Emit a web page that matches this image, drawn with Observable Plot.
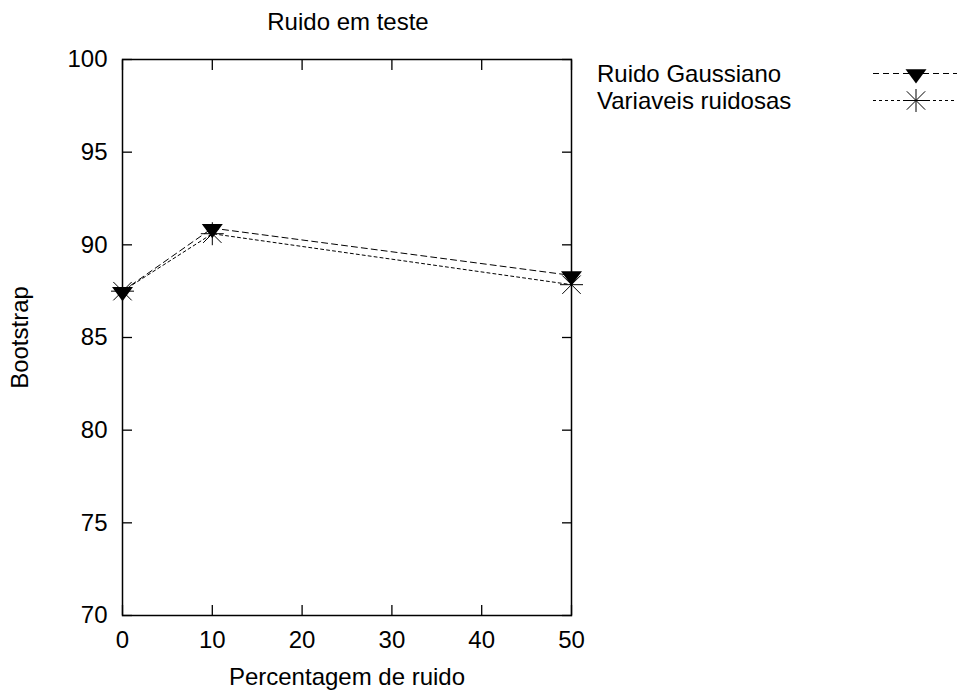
<!DOCTYPE html>
<html>
<head>
<meta charset="utf-8">
<script src="https://cdn.jsdelivr.net/npm/d3@7"></script>
<script src="https://cdn.jsdelivr.net/npm/@observablehq/plot@0.6"></script>
<style>
  html, body { margin: 0; padding: 0; background: #fff; }
  #wrap { position: relative; width: 957px; height: 692px; font-family: "Liberation Sans", Arial, sans-serif; }
  #title { position: absolute; left: 122px; width: 452px; top: 8px; text-align: center; font-size: 24px; line-height: 28px; }
  #legend { position: absolute; left: 597px; top: 60px; font-size: 24px; }
  .lrow { display: flex; align-items: center; height: 27px; line-height: 27px; }
  .lrow span { width: 276px; }
</style>
</head>
<body>
<div id="wrap">
  <div id="title">Ruido em teste</div>
  <div id="legend"></div>
</div>
<script>
const xTicks = [0, 10, 20, 30, 40, 50];
const yTicks = [70, 75, 80, 85, 90, 95, 100];
const seriesNames = ["Ruido Gaussiano", "Variaveis ruidosas"];
const noisePct = [0, 10, 50];
const gaussiano = [87.5, 90.9, 88.35];
const variaveis = [87.5, 90.6, 87.85];

const rows = [];
noisePct.forEach((x, i) => {
  rows.push({serie: seriesNames[0], x, y: gaussiano[i]});
  rows.push({serie: seriesNames[1], x, y: variaveis[i]});
});

const triDown = {
  draw(ctx, size) {
    const r = Math.sqrt(size / Math.PI);
    ctx.moveTo(-r, -0.4 * r);
    ctx.lineTo(r, -0.4 * r);
    ctx.lineTo(0, 0.95 * r);
    ctx.closePath();
  }
};
const star8 = {
  draw(ctx, size) {
    const r = Math.sqrt(size / Math.PI);
    const d = r * 0.8;
    ctx.moveTo(-r, 0); ctx.lineTo(r, 0);
    ctx.moveTo(0, -r); ctx.lineTo(0, r);
    ctx.moveTo(-d, -d); ctx.lineTo(d, d);
    ctx.moveTo(-d, d); ctx.lineTo(d, -d);
  }
};

const g = rows.filter(d => d.serie === seriesNames[0]);
const v = rows.filter(d => d.serie === seriesNames[1]);

const chart = Plot.plot({
  width: 957,
  height: 692,
  marginLeft: 122,
  marginRight: 386,
  marginTop: 59,
  marginBottom: 77,
  style: {fontFamily: "Liberation Sans, Arial, sans-serif", fontSize: "24px", color: "#000", background: "#fff"},
  x: {domain: [0, 50]},
  y: {domain: [70, 100]},
  marks: [
    Plot.frame({stroke: "#000", strokeWidth: 1.5}),
    Plot.axisX({ticks: xTicks, tickSize: -10, tickPadding: 25, strokeWidth: 1.3, fontSize: 24,
      label: "Percentagem de ruido", labelAnchor: "center", labelArrow: "none", labelOffset: 69}),
    Plot.axisX({anchor: "top", ticks: xTicks, tickSize: -10, tickFormat: () => "", label: null, strokeWidth: 1.3}),
    Plot.axisY({ticks: yTicks, tickSize: -10, tickPadding: 25, strokeWidth: 1.3, fontSize: 24,
      label: "Bootstrap", labelAnchor: "center", labelArrow: "none", labelOffset: 112}),
    Plot.axisY({anchor: "right", ticks: yTicks, tickSize: -10, tickFormat: () => "", label: null, strokeWidth: 1.3}),
    Plot.line(g, {x: "x", y: "y", stroke: "#000", strokeWidth: 1, strokeDasharray: "6,4"}),
    Plot.line(v, {x: "x", y: "y", stroke: "#000", strokeWidth: 1, strokeDasharray: "3,3"}),
    Plot.dot(g, {x: "x", y: "y", symbol: () => triDown, r: 10.5, fill: "#000", stroke: "none"}),
    Plot.dot(v, {x: "x", y: "y", symbol: () => star8, r: 11.5, fill: "none", stroke: "#000", strokeWidth: 1})
  ]
});
document.getElementById("wrap").prepend(chart);
chart.style.position = "absolute";
chart.style.left = "0";
chart.style.top = "0";

// legend
const legend = document.getElementById("legend");
const styles = [
  {dash: "6,4", sym: triDown, r: 10.5, fill: "#000", stroke: "none"},
  {dash: "3,3", sym: star8, r: 11.5, fill: "none", stroke: "#000"}
];
seriesNames.forEach((name, i) => {
  const row = document.createElement("div");
  row.className = "lrow";
  const s = document.createElement("span");
  s.textContent = name;
  row.appendChild(s);
  const svg = d3.create("svg").attr("width", 84).attr("height", 27).style("overflow", "visible");
  svg.append("line").attr("x1", 0).attr("x2", 84).attr("y1", 13.5).attr("y2", 13.5)
    .attr("stroke", "#000").attr("stroke-dasharray", styles[i].dash);
  const sz = Math.PI * styles[i].r * styles[i].r;
  svg.append("path").attr("transform", "translate(43,13.5)")
    .attr("d", d3.symbol(styles[i].sym, sz)())
    .attr("fill", styles[i].fill).attr("stroke", styles[i].stroke);
  row.appendChild(svg.node());
  legend.appendChild(row);
});
</script>
</body>
</html>
